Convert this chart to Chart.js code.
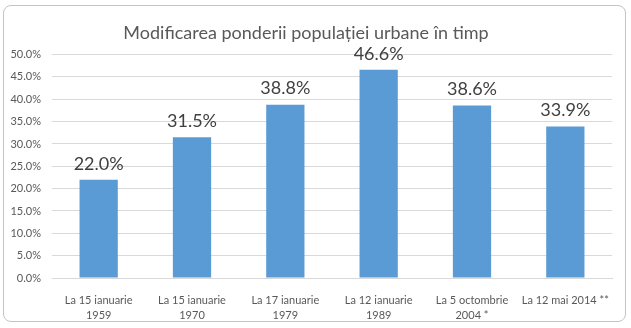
<!DOCTYPE html>
<html>
<head>
<meta charset="utf-8">
<script src="https://cdn.jsdelivr.net/npm/chart.js@4"></script>
<style>
  html, body { margin: 0; padding: 0; background: #fff; }
  #wrap { position: relative; width: 631px; height: 328px; }
  #frame {
    position: absolute; left: 3px; top: 5px; width: 621px; height: 315px;
    border: 1px solid #c4c4c4; border-radius: 8px; background: #fff;
  }
  canvas { position: absolute; left: 0; top: 0; }
</style>
</head>
<body>
<div id="wrap">
  <div id="frame"></div>
  <canvas id="barChart" width="631" height="328"></canvas>
</div>
<script>
const categories = [
  ["La 15 ianuarie", "1959"],
  ["La 15 ianuarie", "1970"],
  ["La 17 ianuarie", "1979"],
  ["La 12 ianuarie", "1989"],
  ["La 5 octombrie", "2004 *"],
  ["La 12 mai 2014 **"],
];
const urbanShare = [22.0, 31.5, 38.8, 46.6, 38.6, 33.9];
const titleText = "Modificarea ponderii populației urbane în timp";

const fontFamily = "Lato, 'Open Sans', sans-serif";

// value labels above every bar
const valueLabels = {
  id: "valueLabels",
  afterDatasetsDraw(chart) {
    const ctx = chart.ctx;
    const meta = chart.getDatasetMeta(0);
    ctx.save();
    ctx.font = "18px " + fontFamily;
    ctx.fillStyle = "#404040";
    ctx.textAlign = "center";
    ctx.textBaseline = "bottom";
    meta.data.forEach((bar, i) => {
      ctx.fillText(urbanShare[i].toFixed(1) + "%", bar.x, bar.y - 7);
    });
    ctx.restore();
  },
};

const ctx = document.getElementById("barChart").getContext("2d");
const chart = new Chart(ctx, {
  type: "bar",
  data: {
    labels: categories,
    datasets: [
      {
        label: "Ponderea populației urbane",
        data: urbanShare,
        backgroundColor: "#5b9bd5",
        borderWidth: 0,
        barPercentage: 0.41,
        categoryPercentage: 1,
      },
    ],
  },
  options: {
    responsive: false,
    animation: false,
    layout: { padding: { left: 0, right: 19, top: 0, bottom: 0 } },
    plugins: {
      legend: { display: false },
      tooltip: { enabled: false },
      title: {
        display: true,
        text: titleText,
        color: "#595959",
        font: { family: fontFamily, size: 18, weight: "normal", lineHeight: 1.2 },
        padding: { top: 22, bottom: 11 },
      },
    },
    scales: {
      x: {
        grid: { display: false },
        border: { color: "#d9d9d9" },
        ticks: {
          color: "#595959",
          font: { family: fontFamily, size: 11, lineHeight: "15px" },
          maxRotation: 0,
          autoSkip: false,
          padding: 7,
        },
        afterFit(scale) {
          scale.height = 50;
        },
      },
      y: {
        min: 0,
        max: 50,
        grid: { color: "#d9d9d9", drawTicks: false },
        border: { display: false },
        ticks: {
          stepSize: 5,
          color: "#595959",
          font: { family: fontFamily, size: 11 },
          padding: 11,
          callback: (v) => v.toFixed(1) + "%",
        },
        afterFit(scale) {
          scale.width = 52;
        },
      },
    },
  },
  plugins: [valueLabels],
});
</script>
</body>
</html>
